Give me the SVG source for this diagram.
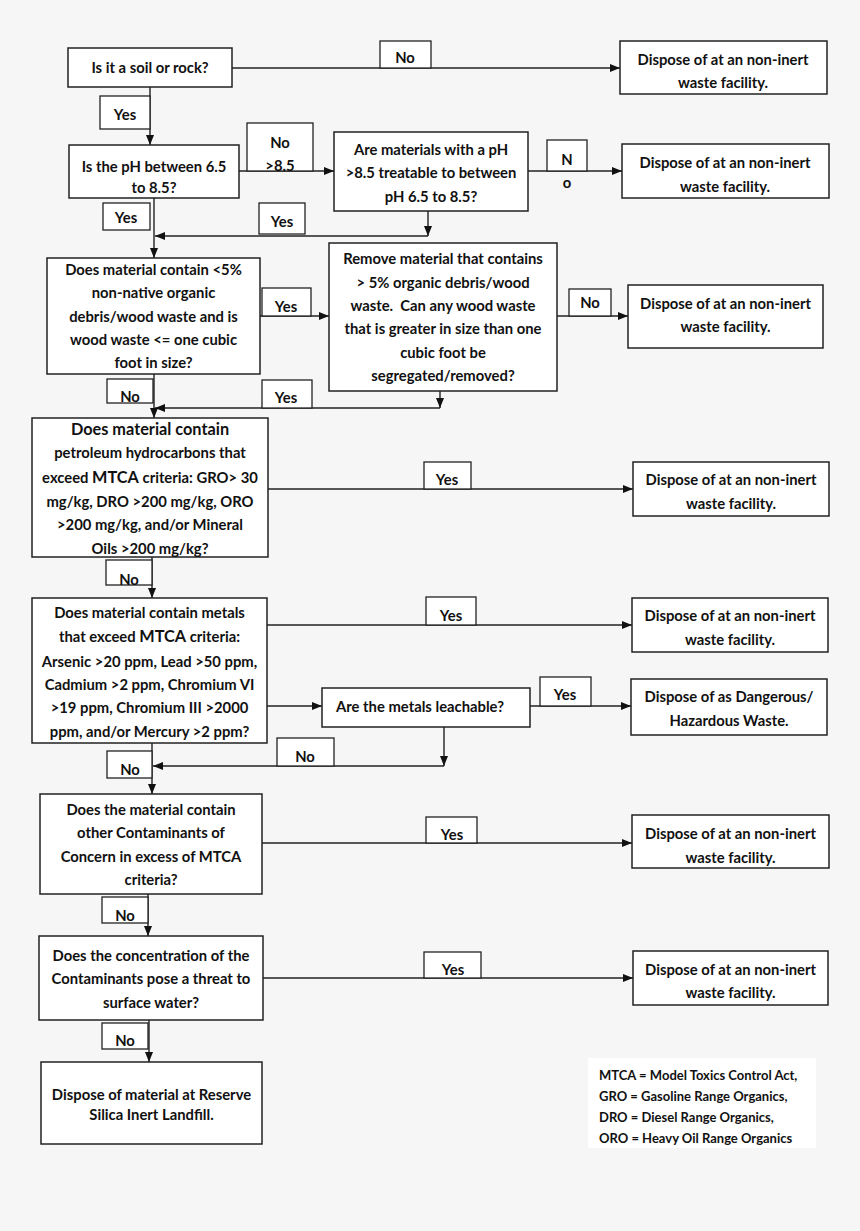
<svg xmlns="http://www.w3.org/2000/svg" width="860" height="1231" viewBox="0 0 860 1231">
<defs>
<style>
.bx{fill:#fff;stroke:#222;stroke-width:1.5}
.lb{fill:#fff;stroke:#222;stroke-width:1.3}
.t{font-family:Lato,"Liberation Sans",sans-serif;font-weight:bold;font-size:14.8px;fill:#111;text-anchor:middle}
.big{font-size:16.3px}
.lg{font-family:Lato,"Liberation Sans",sans-serif;font-weight:bold;font-size:13px;fill:#111}
.c{fill:none;stroke:#222;stroke-width:1.4}
</style>
<marker id="ah" viewBox="0 0 10 10" refX="10" refY="5" markerWidth="10" markerHeight="10" markerUnits="userSpaceOnUse" orient="auto">
<path d="M0,1 L10,5 L0,9 z" fill="#111"/>
</marker>
</defs>
<rect width="860" height="1231" fill="#f6f6f6"/>

<g id="connectors">
<line class="c" x1="232" y1="68" x2="620" y2="68" marker-end="url(#ah)"/>
<line class="c" x1="150" y1="87" x2="150" y2="145" marker-end="url(#ah)"/>
<line class="c" x1="239" y1="171" x2="334" y2="171" marker-end="url(#ah)"/>
<line class="c" x1="528" y1="171" x2="622" y2="171" marker-end="url(#ah)"/>
<line class="c" x1="428" y1="211" x2="428" y2="236" marker-end="url(#ah)"/>
<line class="c" x1="428" y1="236" x2="155" y2="236" marker-end="url(#ah)"/>
<line class="c" x1="154" y1="198" x2="154" y2="258" marker-end="url(#ah)"/>
<line class="c" x1="260" y1="316" x2="329" y2="316" marker-end="url(#ah)"/>
<line class="c" x1="557" y1="316" x2="628" y2="316" marker-end="url(#ah)"/>
<line class="c" x1="440" y1="391" x2="440" y2="408" marker-end="url(#ah)"/>
<line class="c" x1="440" y1="408" x2="155" y2="408" marker-end="url(#ah)"/>
<line class="c" x1="154" y1="374" x2="154" y2="418" marker-end="url(#ah)"/>
<line class="c" x1="268" y1="489" x2="633" y2="489" marker-end="url(#ah)"/>
<line class="c" x1="152" y1="557" x2="152" y2="598" marker-end="url(#ah)"/>
<line class="c" x1="267" y1="625" x2="632" y2="625" marker-end="url(#ah)"/>
<line class="c" x1="267" y1="706" x2="322" y2="706" marker-end="url(#ah)"/>
<line class="c" x1="530" y1="706" x2="631" y2="706" marker-end="url(#ah)"/>
<line class="c" x1="444" y1="727" x2="444" y2="766" marker-end="url(#ah)"/>
<line class="c" x1="444" y1="766" x2="153" y2="766" marker-end="url(#ah)"/>
<line class="c" x1="152" y1="743" x2="152" y2="794" marker-end="url(#ah)"/>
<line class="c" x1="262" y1="843" x2="632" y2="843" marker-end="url(#ah)"/>
<line class="c" x1="148" y1="894" x2="148" y2="936" marker-end="url(#ah)"/>
<line class="c" x1="263" y1="978" x2="633" y2="978" marker-end="url(#ah)"/>
<line class="c" x1="149" y1="1020" x2="149" y2="1062" marker-end="url(#ah)"/>
</g>

<g id="labels">
<rect class="lb" x="380" y="41" width="51" height="27"/><text class="t" x="405" y="63">No</text>
<rect class="lb" x="100" y="96" width="50" height="33"/><text class="t" x="125" y="120">Yes</text>
<rect class="lb" x="247" y="123" width="66" height="48"/><text class="t" x="280" y="148">No</text><text class="t" x="280" y="171">&gt;8.5</text>
<rect class="lb" x="547" y="140" width="40" height="31"/><text class="t" x="567" y="165">N</text><text class="t" x="567" y="188">o</text>
<rect class="lb" x="103" y="203" width="47" height="27"/><text class="t" x="126" y="223">Yes</text>
<rect class="lb" x="259" y="203" width="46" height="31"/><text class="t" x="282" y="227">Yes</text>
<rect class="lb" x="262" y="288" width="49" height="28"/><text class="t" x="286" y="312">Yes</text>
<rect class="lb" x="569" y="289" width="42" height="27"/><text class="t" x="590" y="308">No</text>
<rect class="lb" x="107" y="379" width="46" height="24"/><text class="t" x="130" y="402">No</text>
<rect class="lb" x="262" y="380" width="50" height="28"/><text class="t" x="286" y="403">Yes</text>
<rect class="lb" x="424" y="462" width="47" height="27"/><text class="t" x="447" y="485">Yes</text>
<rect class="lb" x="106" y="560" width="46" height="25"/><text class="t" x="129" y="585">No</text>
<rect class="lb" x="426" y="597" width="50" height="28"/><text class="t" x="451" y="621">Yes</text>
<rect class="lb" x="540" y="677" width="51" height="29"/><text class="t" x="565" y="700">Yes</text>
<rect class="lb" x="277" y="738" width="57" height="28"/><text class="t" x="305" y="762">No</text>
<rect class="lb" x="107" y="751" width="45" height="27"/><text class="t" x="130" y="775">No</text>
<rect class="lb" x="426" y="817" width="51" height="26"/><text class="t" x="452" y="840">Yes</text>
<rect class="lb" x="102" y="897" width="46" height="26"/><text class="t" x="125" y="921">No</text>
<rect class="lb" x="424" y="952" width="57" height="26"/><text class="t" x="453" y="975">Yes</text>
<rect class="lb" x="102" y="1023" width="46" height="26"/><text class="t" x="125" y="1046">No</text>
</g>

<g id="q-soil">
<rect class="bx" x="68" y="48" width="164" height="39"/>
<text class="t" x="150" y="73">Is it a soil or rock?</text>
</g>
<g id="d1">
<rect class="bx" x="620" y="41" width="207" height="53"/>
<text class="t" x="723" y="65">Dispose of at an non-inert</text>
<text class="t" x="723" y="88">waste facility.</text>
</g>
<g id="q-ph">
<rect class="bx" x="69" y="145" width="170" height="53"/>
<text class="t" x="154" y="172">Is the pH between 6.5</text>
<text class="t" x="154" y="193">to 8.5?</text>
</g>
<g id="q-treat">
<rect class="bx" x="334" y="132" width="194" height="79"/>
<text class="t" x="431" y="155">Are materials with a pH</text>
<text class="t" x="431" y="178">&gt;8.5 treatable to between</text>
<text class="t" x="431" y="202">pH 6.5 to 8.5?</text>
</g>
<g id="d2">
<rect class="bx" x="622" y="144" width="207" height="54"/>
<text class="t" x="725" y="168">Dispose of at an non-inert</text>
<text class="t" x="725" y="192">waste facility.</text>
</g>
<g id="q-organic">
<rect class="bx" x="47" y="258" width="213" height="116"/>
<text class="t" x="153.5" y="275">Does material contain &lt;5%</text>
<text class="t" x="153.5" y="298">non-native organic</text>
<text class="t" x="153.5" y="322">debris/wood waste and is</text>
<text class="t" x="153.5" y="345">wood waste &lt;= one cubic</text>
<text class="t" x="153.5" y="368">foot in size?</text>
</g>
<g id="q-remove">
<rect class="bx" x="329" y="243" width="228" height="148"/>
<text class="t" x="443" y="264">Remove material that contains</text>
<text class="t" x="443" y="288">&gt; 5% organic debris/wood</text>
<text class="t" x="443" y="311" xml:space="preserve">waste.  Can any wood waste</text>
<text class="t" x="443" y="334">that is greater in size than one</text>
<text class="t" x="443" y="358">cubic foot be</text>
<text class="t" x="443" y="381">segregated/removed?</text>
</g>
<g id="d3">
<rect class="bx" x="628" y="285" width="195" height="63"/>
<text class="t" x="725.5" y="309">Dispose of at an non-inert</text>
<text class="t" x="725.5" y="332">waste facility.</text>
</g>
<g id="q-petroleum">
<rect class="bx" x="32" y="418" width="236" height="139"/>
<text class="t big" x="150" y="435">Does material contain</text>
<text class="t" x="150" y="458">petroleum hydrocarbons that</text>
<text class="t" x="150" y="483">exceed <tspan class="big">MTCA</tspan> criteria: GRO&gt; 30</text>
<text class="t" x="150" y="507">mg/kg, DRO &gt;200 mg/kg, ORO</text>
<text class="t" x="150" y="530">&gt;200 mg/kg, and/or Mineral</text>
<text class="t" x="150" y="554">Oils &gt;200 mg/kg?</text>
</g>
<g id="d4">
<rect class="bx" x="633" y="462" width="196" height="54"/>
<text class="t" x="731" y="485">Dispose of at an non-inert</text>
<text class="t" x="731" y="509">waste facility.</text>
</g>
<g id="q-metals">
<rect class="bx" x="32" y="598" width="235" height="145"/>
<text class="t" x="149.5" y="618">Does material contain metals</text>
<text class="t" x="149.5" y="642">that exceed <tspan class="big">MTCA</tspan> criteria:</text>
<text class="t" x="149.5" y="667">Arsenic &gt;20 ppm, Lead &gt;50 ppm,</text>
<text class="t" x="149.5" y="690">Cadmium &gt;2 ppm, Chromium VI</text>
<text class="t" x="149.5" y="713">&gt;19 ppm, Chromium III &gt;2000</text>
<text class="t" x="149.5" y="737">ppm, and/or Mercury &gt;2 ppm?</text>
</g>
<g id="d5">
<rect class="bx" x="632" y="598" width="196" height="54"/>
<text class="t" x="730" y="621">Dispose of at an non-inert</text>
<text class="t" x="730" y="645">waste facility.</text>
</g>
<g id="q-leach">
<rect class="bx" x="322" y="688" width="208" height="39"/>
<text class="t" x="420" y="712">Are the metals leachable?</text>
</g>
<g id="d-haz">
<rect class="bx" x="631" y="679" width="196" height="56"/>
<text class="t" x="729" y="702">Dispose of as Dangerous/</text>
<text class="t" x="729" y="726">Hazardous Waste.</text>
</g>
<g id="q-other">
<rect class="bx" x="40" y="794" width="222" height="100"/>
<text class="t" x="151" y="815">Does the material contain</text>
<text class="t" x="151" y="838">other Contaminants of</text>
<text class="t" x="151" y="862">Concern in excess of MTCA</text>
<text class="t" x="151" y="885">criteria?</text>
</g>
<g id="d6">
<rect class="bx" x="632" y="815" width="197" height="53"/>
<text class="t" x="730.5" y="839">Dispose of at an non-inert</text>
<text class="t" x="730.5" y="863">waste facility.</text>
</g>
<g id="q-water">
<rect class="bx" x="39" y="936" width="224" height="84"/>
<text class="t" x="151" y="961">Does the concentration of the</text>
<text class="t" x="151" y="984">Contaminants pose a threat to</text>
<text class="t" x="151" y="1008">surface water?</text>
</g>
<g id="d7">
<rect class="bx" x="633" y="951" width="195" height="54"/>
<text class="t" x="730.5" y="975">Dispose of at an non-inert</text>
<text class="t" x="730.5" y="998">waste facility.</text>
</g>
<g id="d-final">
<rect class="bx" x="41" y="1062" width="221" height="82"/>
<text class="t" x="151.5" y="1100">Dispose of material at Reserve</text>
<text class="t" x="151.5" y="1120">Silica Inert Landfill.</text>
</g>
<g id="legend">
<rect x="588" y="1058" width="228" height="90" fill="#fff"/>
<text class="lg" x="599" y="1080">MTCA = Model Toxics Control Act,</text>
<text class="lg" x="599" y="1101">GRO = Gasoline Range Organics,</text>
<text class="lg" x="599" y="1122">DRO = Diesel Range Organics,</text>
<text class="lg" x="599" y="1143">ORO = Heavy Oil Range Organics</text>
</g>
</svg>
